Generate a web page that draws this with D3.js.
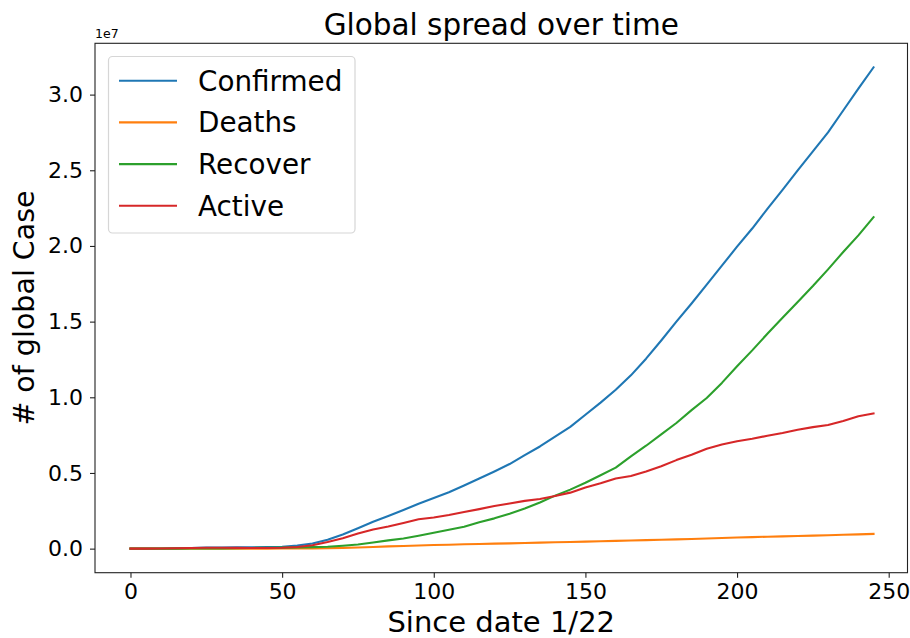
<!DOCTYPE html>
<html><head><meta charset="utf-8">
<script src="https://cdn.jsdelivr.net/npm/d3@7/dist/d3.min.js"></script>
<style>
body{margin:0;background:#fff}
svg{display:block}
text{font-family:"DejaVu Sans",sans-serif;fill:#000}
</style>
</head><body>
<svg id="chart" width="910" height="638"></svg>
<script>
// Days since 1/22
const days = [0,5,10,15,20,25,30,35,40,45,50,55,60,65,70,75,80,85,90,95,100,105,110,115,120,125,130,135,140,145,150,155,160,165,170,175,180,185,190,195,200,205,210,215,220,225,230,235,240,245];
// values in millions of cases
const confirmed = [0.001,0.003,0.012,0.031,0.045,0.071,0.077,0.081,0.090,0.106,0.128,0.198,0.337,0.593,0.932,1.347,1.777,2.152,2.550,2.971,3.344,3.730,4.177,4.630,5.100,5.590,6.180,6.750,7.400,8.050,8.850,9.650,10.500,11.450,12.550,13.750,15.000,16.200,17.450,18.700,19.950,21.150,22.450,23.700,25.000,26.250,27.500,28.950,30.400,31.800];
const deaths = [0.00002,0.00008,0.0003,0.0006,0.0011,0.0017,0.0023,0.0028,0.0031,0.0036,0.0047,0.0080,0.0147,0.0272,0.0475,0.0750,0.1080,0.1470,0.1770,0.2060,0.2390,0.2610,0.2860,0.3110,0.3310,0.3480,0.3720,0.3940,0.4180,0.4370,0.4620,0.4870,0.5110,0.5350,0.5620,0.5880,0.6140,0.6410,0.6740,0.7030,0.7330,0.7600,0.7880,0.8110,0.8380,0.8620,0.8860,0.9130,0.9450,0.9750];
const recovered = [0.00003,0.00006,0.0003,0.0012,0.0046,0.0104,0.0187,0.0306,0.0453,0.0599,0.0681,0.0809,0.0980,0.1284,0.1935,0.2764,0.4040,0.5460,0.6730,0.8500,1.0500,1.2500,1.4500,1.7500,2.0000,2.3000,2.6500,3.0500,3.5000,3.9000,4.3500,4.8500,5.3500,6.1000,6.8000,7.5500,8.3000,9.1500,9.9500,10.9500,12.0500,13.1000,14.2000,15.2500,16.3000,17.3500,18.4500,19.6000,20.7000,21.9000];
const active = [0.0005,0.0028,0.0114,0.029,0.039,0.059,0.056,0.048,0.042,0.042,0.055,0.109,0.224,0.437,0.691,0.996,1.265,1.459,1.700,1.947,2.053,2.219,2.421,2.609,2.819,2.982,3.158,3.278,3.480,3.700,4.040,4.320,4.640,4.800,5.100,5.450,5.850,6.200,6.600,6.880,7.100,7.260,7.460,7.640,7.860,8.030,8.170,8.440,8.750,8.930];

const seriesNames = ["Confirmed","Deaths","Recover","Active"];
const seriesColors = ["#1f77b4","#ff7f0e","#2ca02c","#d62728"];
const seriesValues = [confirmed, deaths, recovered, active];

const xTicks = [0,50,100,150,200,250];
const yTicks = [0,5,10,15,20,25,30];           // millions
const yTickLabels = ["0.0","0.5","1.0","1.5","2.0","2.5","3.0"];

const svg = d3.select("#chart");
const L = 95, R = 907.5, T = 43.3, B = 572.7;

const x = d3.scaleLinear().domain([-11.7, 256.2]).range([L, R]);
const allV = seriesValues.flat();
const yMin = d3.min(allV), yMax = d3.max(allV);
const yPad = (yMax - yMin) * 0.05;
const y = d3.scaleLinear().domain([yMin - yPad, yMax + yPad]).range([B, T]);

// lines
const line = d3.line().x((d, i) => x(days[i])).y(d => y(d));
svg.append("clipPath").attr("id","clp").append("rect")
  .attr("x", L).attr("y", T).attr("width", R - L).attr("height", B - T);
const g = svg.append("g").attr("clip-path","url(#clp)");
seriesValues.forEach((vals, k) => {
  g.append("path").datum(vals)
    .attr("d", line)
    .attr("fill","none")
    .attr("stroke", seriesColors[k])
    .attr("stroke-width", 2.1)
    .attr("stroke-linejoin","round")
    .attr("stroke-linecap","square");
});

// axes
const xAxis = svg.append("g").attr("transform", `translate(0,${B})`)
  .call(d3.axisBottom(x).tickValues(xTicks).tickSize(5).tickPadding(6).tickFormat(d3.format("d")));
const yAxis = svg.append("g").attr("transform", `translate(${L},0)`)
  .call(d3.axisLeft(y).tickValues(yTicks).tickSize(5).tickPadding(7).tickFormat((d, i) => yTickLabels[i]));
[xAxis, yAxis].forEach(a => {
  a.select(".domain").remove();
  a.selectAll(".tick line").attr("stroke","#222").attr("stroke-width",1.1);
  a.selectAll(".tick text").attr("font-size", 22).attr("font-family","DejaVu Sans").attr("fill","#000");
});

// frame
svg.append("rect").attr("x", L).attr("y", T).attr("width", R - L).attr("height", B - T)
  .attr("fill","none").attr("stroke","#222").attr("stroke-width",1.1);

// offset text
svg.append("text").attr("x", L).attr("y", 38).attr("font-size", 12.5).text("1e7");

// title & labels
svg.append("text").attr("x", (L + R) / 2).attr("y", 35).attr("text-anchor","middle")
  .attr("font-size", 29.5).text("Global spread over time");
svg.append("text").attr("x", (L + R) / 2).attr("y", 632).attr("text-anchor","middle")
  .attr("font-size", 29).text("Since date 1/22");
svg.append("text").attr("transform", `translate(34,${(T + B) / 2}) rotate(-90)`)
  .attr("text-anchor","middle").attr("font-size", 28.5).text("# of global Case");

// legend
const lg = svg.append("g");
lg.append("rect").attr("x", 108.5).attr("y", 56.5).attr("width", 246.5).attr("height", 176.5)
  .attr("rx", 4).attr("fill","#fff").attr("fill-opacity",0.8)
  .attr("stroke","#d6d6d6").attr("stroke-width",1.2);
seriesNames.forEach((n, k) => {
  const yy = 80.7 + k * 41.7;
  lg.append("line").attr("x1", 119).attr("x2", 177).attr("y1", yy).attr("y2", yy)
    .attr("stroke", seriesColors[k]).attr("stroke-width", 2.1);
  lg.append("text").attr("x", 198).attr("y", yy + 10).attr("font-size", 27.8).text(n);
});
</script>
</body></html>
